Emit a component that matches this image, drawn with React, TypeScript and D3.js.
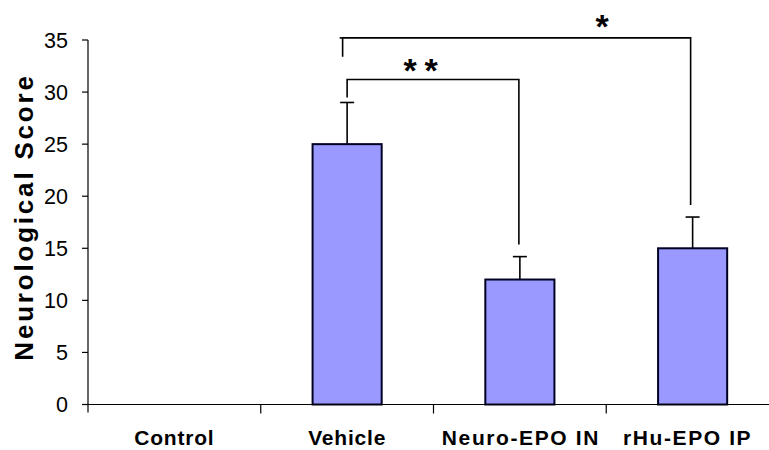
import React from "react";
import * as d3 from "d3";

const categories = ["Control", "Vehicle", "Neuro-EPO IN", "rHu-EPO IP"];
const means = [0, 25, 12, 15];
const errors = [0, 4, 2.2, 3];
const yTicks = [0, 5, 10, 15, 20, 25, 30, 35];

export default function App() {
  const W = 769, H = 450;
  const left = 88, right = 779, top = 40, bottom = 404.5;
  const x = d3.scaleBand<string>().domain(categories).range([left, right]).paddingInner(0.6).paddingOuter(0.3);
  const y = d3.scaleLinear().domain([0, 35]).range([bottom, top]);
  const bw = x.bandwidth();
  const cx = (c: string) => (x(c) as number) + bw / 2;
  const step = x.step();
  const font = "Arial, 'Liberation Sans', sans-serif";

  const b1y = y(31.2);
  const b2y = y(35.2);
  const vehX = cx("Vehicle");
  const neuroX = cx("Neuro-EPO IN");
  const rhuX = cx("rHu-EPO IP") - 2;
  const capTop = (i: number) => y(means[i] + errors[i]);

  return (
    <svg width={W} height={H} style={{ position: "absolute", left: 0, top: 0, background: "#fff" }} fontFamily={font}>
      <rect width={W} height={H} fill="#fff" />
      {/* bars */}
      {categories.map((c, i) =>
        means[i] > 0 ? (
          <g key={c}>
            <line x1={cx(c)} x2={cx(c)} y1={y(means[i])} y2={capTop(i)} stroke="#000" strokeWidth={1.6} />
            <line x1={cx(c) - 7} x2={cx(c) + 7} y1={capTop(i)} y2={capTop(i)} stroke="#000" strokeWidth={1.6} />
            <rect x={x(c)} y={y(means[i])} width={bw} height={bottom - y(means[i])} fill="#9999ff" stroke="#000022" strokeWidth={2} />
          </g>
        ) : null
      )}
      {/* axes */}
      <line x1={left} x2={left} y1={top} y2={bottom + 8} stroke="#000" strokeWidth={1.2} />
      <line x1={left} x2={W} y1={bottom} y2={bottom} stroke="#000" strokeWidth={1.2} />
      {yTicks.map((t) => (
        <g key={t}>
          <line x1={left - 6} x2={left} y1={y(t)} y2={y(t)} stroke="#000" strokeWidth={1.2} />
          <text x={68} y={y(t)} dy="0.36em" textAnchor="end" fontSize={21.5} fill="#000">{t}</text>
        </g>
      ))}
      {categories.slice(1).map((c) => (
        <line key={c} x1={x(c)! - (step - bw) / 2} x2={x(c)! - (step - bw) / 2} y1={bottom} y2={bottom + 9} stroke="#000" strokeWidth={1.2} />
      ))}
      {categories.map((c, i) => (
        <text key={c} x={i === 3 ? cx(c) - 5 : i === 2 ? cx(c) + 1 : cx(c)} y={445} textAnchor="middle" fontSize={21} fontWeight="bold" letterSpacing={i >= 2 ? 1.6 : 0.8} fill="#000">{c}</text>
      ))}
      <text transform={`translate(33,${217}) rotate(-90)`} textAnchor="middle" fontSize={26} fontWeight="bold" letterSpacing={2.8} fill="#000">
        Neurological  Score
      </text>
      {/* significance brackets */}
      <path d={`M${vehX},${capTop(1) - 5} V${b1y} H${neuroX - 1} V${capTop(2) - 12}`} fill="none" stroke="#000" strokeWidth={1.6} />
      <path d={`M${vehX - 4.5},${y(33.4)} V${b2y} H${rhuX} V${capTop(3) - 12}`} fill="none" stroke="#000" strokeWidth={1.6} />
      <line x1={vehX - 7.5} x2={vehX - 4} y1={b2y} y2={b2y} stroke="#000" strokeWidth={1.6} />
      {[410, 431].map((sx) => (
        <text key={sx} x={sx} y={b1y + 2} textAnchor="middle" fontSize={34} fontWeight="bold" fill="#000">*</text>
      ))}
      <text x={602} y={b2y + 0} textAnchor="middle" fontSize={34} fontWeight="bold" fill="#000">*</text>
    </svg>
  );
}
